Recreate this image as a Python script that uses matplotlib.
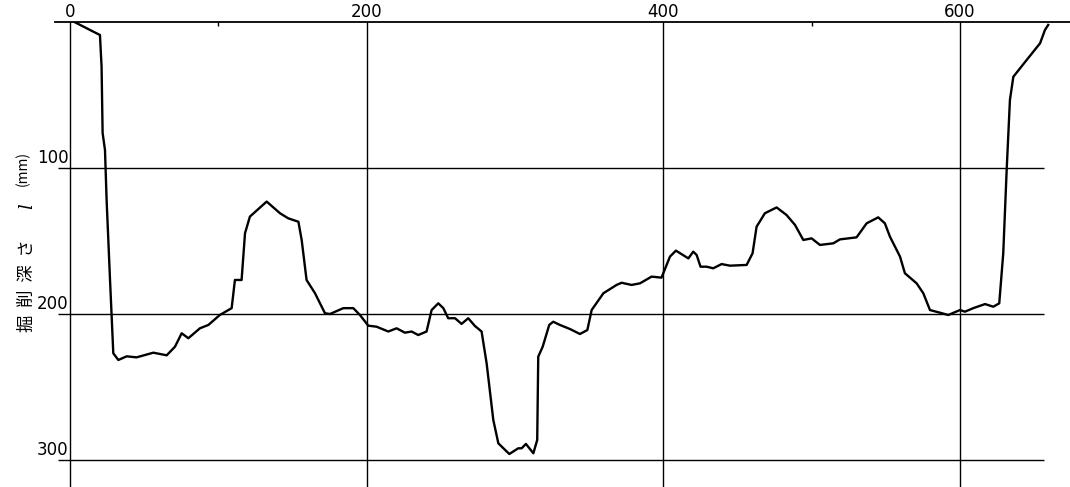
import matplotlib.pyplot as plt
import numpy as np

# horizontal position (mm) and excavation depth l (mm)
pos = [3, 15.7, 20.2, 21.3, 22, 23.6, 24.7, 27, 29.2, 32.6, 38.2, 44.9, 56.2, 65.2,
       70.8, 75.3, 79.8, 87.6, 93.3, 101, 109, 111.2, 115.7, 118, 121.3, 132.6,
       141.6, 147.2, 154, 156.2, 159.5, 165.2, 171.9, 175.3, 184.3, 191, 195.5,
       201.1, 206.7, 214.6, 220.2, 225.8, 230.3, 234.8, 240.4, 243.8, 248.3,
       251.7, 255, 259.6, 264, 268.5, 273, 277.5, 280.9, 285.4, 288.8, 296.2,
       302.2, 304.5, 307.4, 312.4, 315, 315.7, 318.7, 323.1, 325.8, 330.3, 337.1,
       343.8, 348.8, 351.7, 359.6, 368.5, 371.9, 378.6, 384.3, 392.1, 398.8,
       404.5, 408.5, 416.9, 420.2, 422.5, 425.1, 429.2, 433.7, 439.3, 444.9,
       456.2, 460.2, 462.9, 468.5, 476.4, 483.1, 488.8, 494.4, 500, 505.6,
       514.6, 519.1, 530.3, 537.1, 544.9, 549.4, 552.8, 559.6, 562.9, 570.8,
       575.3, 579.8, 586.5, 592.1, 600, 603.4, 609, 616.9, 622.5, 626.5, 629.2,
       631.5, 633.7, 636, 645, 654, 657.3, 659.5]
depth = [0, 6.6, 8.9, 30.6, 76, 87.7, 122, 176.7, 226.9, 231.5, 229, 229.7, 226.5,
         228.3, 222.4, 213.2, 216.6, 209.8, 207.5, 200.7, 196, 176.7, 176.7, 144.7,
         133.3, 123, 131, 134.5, 136.8, 149.3, 176.7, 185.8, 199.5, 200, 196, 196,
         200.7, 208, 208.7, 212, 209.8, 212.8, 212, 214.4, 212, 197.3, 192.7, 196,
         202.9, 202.9, 206.8, 202.9, 208.2, 212, 233.8, 272.6, 288.6, 295.9, 292,
         292, 289, 295.4, 286.3, 229.2, 222.4, 207.5, 205.3, 207.5, 210.3, 213.7,
         211, 197.3, 185.8, 180.1, 178.6, 180.1, 179, 174.4, 175.1, 160.7, 156.6,
         161.9, 157.3, 159.6, 167.6, 167.6, 168.7, 165.8, 166.9, 166.4, 158.4,
         140.2, 131, 127, 132.2, 139, 149.3, 148.2, 152.7, 151.6, 148.9, 147.5,
         137.9, 133.8, 137.9, 147, 160.7, 172.1, 179, 185.8, 197.3, 199.1, 200.7,
         197.3, 198.4, 196, 193.2, 195, 192.7, 158.4, 101.4, 53.4, 37.5, 26, 14.6,
         5.5, 2]

x_ticks = [0, 200, 400, 600]
y_ticks = [100, 200, 300]

plt.rcParams['font.family'] = ['Noto Sans CJK JP', 'DejaVu Sans']

fig = plt.figure(figsize=(10.7, 4.87), dpi=100)
ax = fig.add_axes([55 / 1070, 0, 1 - 55 / 1070, 1 - 22 / 487])
ax.set_xlim(-10.1, 674.2)
ax.set_ylim(318.5, 0)

for s in ['left', 'right', 'bottom']:
    ax.spines[s].set_visible(False)
ax.spines['top'].set_linewidth(1.3)

ax.xaxis.tick_top()
ax.set_xticks(x_ticks)
ax.set_xticklabels([str(v) for v in x_ticks], fontsize=12, family='DejaVu Sans')
ax.set_xticks([100, 500], minor=True)
ax.tick_params(axis='x', which='major', length=0, pad=1)
ax.tick_params(axis='x', which='minor', direction='in', length=3, width=1)
ax.set_yticks([])
ax.grid(axis='x', which='major', color='black', lw=1.0)

ax.hlines(y_ticks, -8, 657, color='black', lw=1.0)
for v in y_ticks:
    ax.text(-1, v - 1, str(v), ha='right', va='bottom', fontsize=12,
            family='DejaVu Sans')

ax.plot(pos, depth, color='black', lw=1.7, solid_joinstyle='round')

fig.text(27 / 1070, 1 - 286 / 487, '掘  削  深  さ', rotation=90, ha='center',
         va='center', fontsize=12.5)
fig.text(27 / 1070, 1 - 206 / 487, 'l', rotation=90, ha='center', va='center',
         fontsize=13, family='DejaVu Serif', style='italic')
fig.text(23 / 1070, 1 - 168 / 487, '(mm)', rotation=90, ha='center',
         va='center', fontsize=10)

fig.savefig('out.png', dpi=100)
